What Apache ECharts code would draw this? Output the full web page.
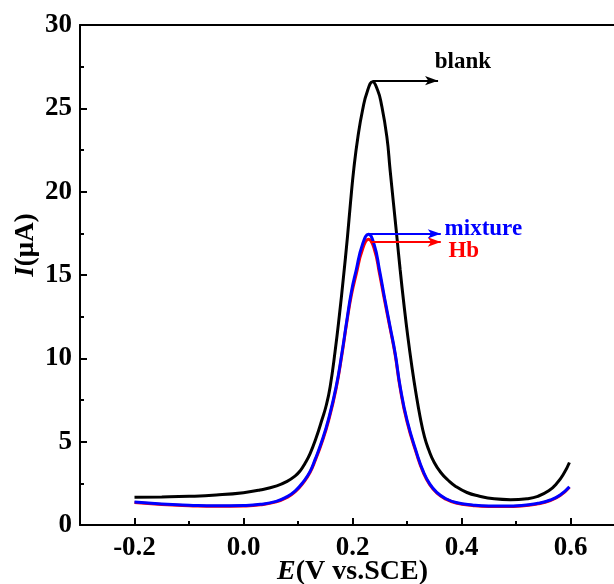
<!DOCTYPE html>
<html><head><meta charset="utf-8">
<script src="https://cdn.jsdelivr.net/npm/echarts@6/dist/echarts.min.js"></script>
<style>html,body{margin:0;padding:0;background:#fff}#c{width:614px;height:584px}</style>
</head><body><div id="c"></div>
<script>
// ---- data ----
const blankE = [-0.2,-0.15,-0.1,-0.05,0,0.03,0.061,0.08,0.095,0.104,0.113,0.1224,0.133,0.1438,0.152,0.159,0.168,0.176,0.1835,0.1905,0.1965,0.2025,0.21,0.2185,0.227,0.2369,0.246,0.2527,0.263,0.269,0.2752,0.2814,0.2875,0.2945,0.3015,0.309,0.316,0.324,0.332,0.34,0.35,0.362,0.375,0.39,0.41,0.43,0.46,0.49,0.52,0.54,0.56,0.575,0.588,0.598];
const blankI = [1.66,1.68,1.72,1.8,1.94,2.1,2.35,2.62,2.95,3.25,3.7,4.3,5.2,6.3,7.2,8.3,10.4,12.6,14.9,17.2,19.4,21.4,23.3,24.9,26.0,26.6,26.1,25.3,23.3,21.3,19.3,17.3,15.3,13.2,11.3,9.5,8.0,6.5,5.3,4.5,3.75,3.15,2.7,2.3,1.95,1.75,1.57,1.52,1.58,1.72,2.05,2.5,3.1,3.75];

const mixE = [-0.2,-0.15,-0.1,-0.05,0,0.031,0.06,0.08,0.095,0.11,0.122,0.1316,0.144,0.156,0.17,0.1805,0.1897,0.198,0.2068,0.218,0.2294,0.24,0.2495,0.259,0.269,0.2783,0.2875,0.3,0.318,0.33,0.342,0.355,0.37,0.39,0.42,0.45,0.48,0.51,0.54,0.563,0.581,0.598];
const mixI = [1.38,1.26,1.19,1.15,1.17,1.24,1.42,1.7,2.05,2.6,3.2,3.95,5.05,6.35,8.3,10.3,12.3,14.0,15.3,16.8,17.44,16.8,15.3,13.6,11.9,10.3,8.3,6.3,4.3,3.2,2.45,1.95,1.6,1.35,1.2,1.14,1.14,1.17,1.3,1.5,1.8,2.3];

const hbE = [-0.2,-0.15,-0.1,-0.05,0,0.031,0.06,0.08,0.095,0.11,0.122,0.1316,0.144,0.156,0.17,0.1805,0.1897,0.198,0.2068,0.218,0.2294,0.24,0.2495,0.259,0.269,0.2783,0.2875,0.3,0.318,0.33,0.342,0.355,0.37,0.39,0.42,0.45,0.48,0.51,0.54,0.563,0.581,0.598];
const hbI = [1.35,1.23,1.16,1.12,1.14,1.21,1.39,1.66,2.0,2.55,3.15,3.88,4.97,6.25,8.2,10.2,12.2,13.8,15.05,16.5,17.14,16.55,15.1,13.45,11.8,10.2,8.2,6.2,4.22,3.14,2.4,1.91,1.57,1.32,1.17,1.11,1.11,1.14,1.27,1.47,1.77,2.27];

// annotation arrows: start E, end E, I level (blank, mixture, Hb)
const arrowStartE = [0.2369, 0.2294, 0.2330];
const arrowEndE   = [0.357, 0.362, 0.362];
const arrowI      = [26.66, 17.47, 16.98];
// annotation texts
const labelTexts = ['blank', 'mixture', 'Hb'];
const labelE = [0.351, 0.369, 0.376];
const labelI = [27.75, 17.76, 16.45];

const majorE = [-0.2, 0.0, 0.2, 0.4, 0.6];
const minorE = [-0.1, 0.1, 0.3, 0.5];

const seriesColors = ['#000000', '#0000ff', '#ff0000'];
const FONT = 'Liberation Serif';

const zip = (a, b) => a.map((v, i) => [v, b[i]]);

function arrow(i) {
  return {
    silent: true, animation: false,
    symbol: ['none', 'arrow'], symbolSize: [7, 13],
    lineStyle: { color: seriesColors[i], width: 2, type: 'solid', opacity: 1 },
    label: { show: false },
    emphasis: { disabled: true },
    data: [[{ coord: [arrowStartE[i], arrowI[i]] }, { coord: [arrowEndE[i], arrowI[i]] }]]
  };
}

const chart = echarts.init(document.getElementById('c'), null, { renderer: 'canvas' });
const tickLabelStyle = { fontFamily: FONT, fontWeight: 'bold', fontSize: 27, color: '#000' };

chart.setOption({
  animation: false,
  backgroundColor: '#fff',
  grid: { left: 80, top: 25, width: 545, height: 500, containLabel: false, outerBoundsMode: 'none' },
  xAxis: [
    {
      type: 'value', min: -0.3, max: 0.7, position: 'bottom',
      name: '{i|E}(V vs.SCE)', nameLocation: 'middle', nameGap: 33, nameMoveOverlap: false,
      nameTextStyle: { fontFamily: FONT, fontWeight: 'bold', fontSize: 28, color: '#000',
        rich: { i: { fontFamily: FONT, fontWeight: 'bold', fontStyle: 'italic', fontSize: 28, color: '#000' } } },
      axisLine: { show: true, onZero: false, lineStyle: { color: '#000', width: 2 } },
      axisTick: { show: true, inside: true, length: 7, customValues: majorE, lineStyle: { color: '#000', width: 2 } },
      axisLabel: Object.assign({ customValues: majorE, margin: 10, formatter: v => v.toFixed(1) }, tickLabelStyle),
      splitLine: { show: false }
    },
    {
      type: 'value', min: -0.3, max: 0.7, position: 'bottom',
      axisLine: { show: false, onZero: false },
      axisTick: { show: true, inside: true, length: 4, customValues: minorE, lineStyle: { color: '#000', width: 2 } },
      axisLabel: { show: false }, splitLine: { show: false }
    },
    {
      type: 'value', min: -0.3, max: 0.7, position: 'top',
      axisLine: { show: true, onZero: false, lineStyle: { color: '#000', width: 2 } },
      axisTick: { show: false }, axisLabel: { show: false }, splitLine: { show: false }
    }
  ],
  yAxis: {
    type: 'value', min: 0, max: 30, interval: 5,
    name: '{i|I}(μA)', nameLocation: 'middle', nameGap: 40, nameRotate: 90, nameMoveOverlap: false,
    nameTextStyle: { fontFamily: FONT, fontWeight: 'bold', fontSize: 27, color: '#000', padding: [0, 0, 0, 60],
      rich: { i: { fontFamily: FONT, fontWeight: 'bold', fontStyle: 'italic', fontSize: 27, color: '#000' } } },
    axisLine: { show: true, onZero: false, lineStyle: { color: '#000', width: 2 } },
    axisTick: { show: true, inside: true, length: 7, lineStyle: { color: '#000', width: 2 } },
    minorTick: { show: true, splitNumber: 2, length: 4, lineStyle: { color: '#000', width: 2 } },
    axisLabel: Object.assign({ margin: 8 }, tickLabelStyle),
    splitLine: { show: false }, minorSplitLine: { show: false }
  },
  series: [
    { type: 'line', name: 'blank', data: zip(blankE, blankI), showSymbol: false, symbol: 'none', smooth: 0.5,
      lineStyle: { color: seriesColors[0], width: 3 }, markLine: arrow(0) },
    { type: 'line', name: 'Hb', data: zip(hbE, hbI), showSymbol: false, symbol: 'none', smooth: 0.5,
      lineStyle: { color: seriesColors[2], width: 3 }, markLine: arrow(2) },
    { type: 'line', name: 'mixture', data: zip(mixE, mixI), showSymbol: false, symbol: 'none', smooth: 0.5,
      lineStyle: { color: seriesColors[1], width: 3 }, markLine: arrow(1) },
    { type: 'scatter', symbolSize: 0, silent: true, itemStyle: { opacity: 1 },
      data: labelTexts.map((t, i) => ({
        name: t, value: [labelE[i], labelI[i]],
        label: { color: seriesColors[i], opacity: 1 }
      })),
      label: { show: true, position: 'right', distance: 0, formatter: p => p.name, opacity: 1,
        fontFamily: FONT, fontWeight: 'bold', fontSize: 23 } }
  ]
});
</script></body></html>
